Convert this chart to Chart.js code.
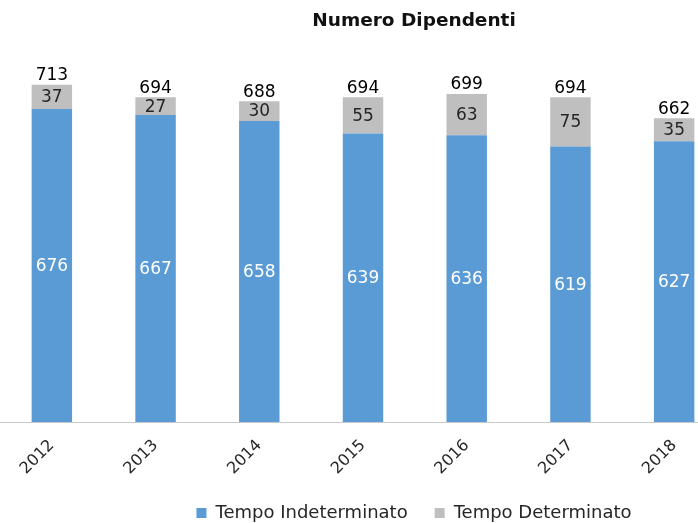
<!DOCTYPE html>
<html>
<head>
<meta charset="utf-8">
<script src="https://cdn.jsdelivr.net/npm/chart.js@4"></script>
<style>
  body { margin: 0; overflow: hidden; background: #fff; }
  #box { width: 828px; height: 523px; }
</style>
</head>
<body>
<div id="box"><canvas id="chart"></canvas></div>
<script>
const years = ['2012', '2013', '2014', '2015', '2016', '2017', '2018'];
const indeterminato = [676, 667, 658, 639, 636, 619, 627];
const determinato = [37, 27, 30, 55, 63, 75, 35];
const totali = [713, 694, 688, 694, 699, 694, 662];

const FONT = 'DejaVu Sans';

// numbers in the segments and the totals on top
const valueLabels = {
    id: 'valueLabels',
    afterDatasetsDraw(chart) {
        const ctx = chart.ctx;
        const bottom = chart.chartArea.bottom;
        ctx.save();
        ctx.textAlign = 'center';
        ctx.textBaseline = 'middle';
        ctx.font = '17px "' + FONT + '"';
        chart.data.datasets.forEach((ds, di) => {
            const meta = chart.getDatasetMeta(di);
            meta.data.forEach((bar, i) => {
                const mid = (bar.y + Math.min(bar.base, bottom)) / 2;
                ctx.fillStyle = di === 0 ? '#ffffff' : '#262626';
                ctx.fillText(ds.data[i], bar.x, mid + 1);
                if (di === 1) {
                    ctx.fillStyle = '#000000';
                    ctx.fillText(totali[i], bar.x, bar.y - 9);
                }
            });
        });
        ctx.restore();
    }
};

new Chart(document.getElementById('chart'), {
    type: 'bar',
    data: {
        labels: years,
        datasets: [{
            label: 'Tempo Indeterminato',
            data: indeterminato,
            backgroundColor: '#5b9bd5'
        }, {
            label: 'Tempo Determinato',
            data: determinato,
            backgroundColor: '#bfbfbf'
        }]
    },
    options: {
        responsive: true,
        maintainAspectRatio: false,
        animation: false,
        categoryPercentage: 1,
        barPercentage: 0.39,
        layout: { padding: { left: 0, right: 0, top: 0, bottom: -9 } },
        scales: {
            x: {
                stacked: true,
                grid: { display: false, drawTicks: false },
                border: { display: true, color: '#c8c8c8', dash: [2, 2] },
                ticks: {
                    color: '#262626',
                    font: { family: FONT, size: 16 },
                    minRotation: 45,
                    maxRotation: 45,
                    padding: 14
                },
                afterFit(s) { s.height = 55; }
            },
            y: {
                stacked: true,
                display: false,
                min: 200,
                max: 780
            },
            y2: {
                position: 'right',
                display: true,
                grid: { display: false },
                border: { display: false },
                ticks: { display: false },
                afterFit(s) { s.width = 102; }
            }
        },
        plugins: {
            title: {
                display: true,
                text: 'Numero Dipendenti',
                color: '#111',
                font: { family: FONT, size: 18.5, weight: 'bold' },
                padding: { top: 10, bottom: 8.5 }
            },
            legend: {
                position: 'bottom',
                labels: {
                    boxWidth: 10,
                    boxHeight: 10,
                    padding: 27,
                    color: '#262626',
                    font: { family: FONT, size: 18 }
                }
            },
            tooltip: { enabled: false }
        }
    },
    plugins: [valueLabels]
});
</script>
</body>
</html>
